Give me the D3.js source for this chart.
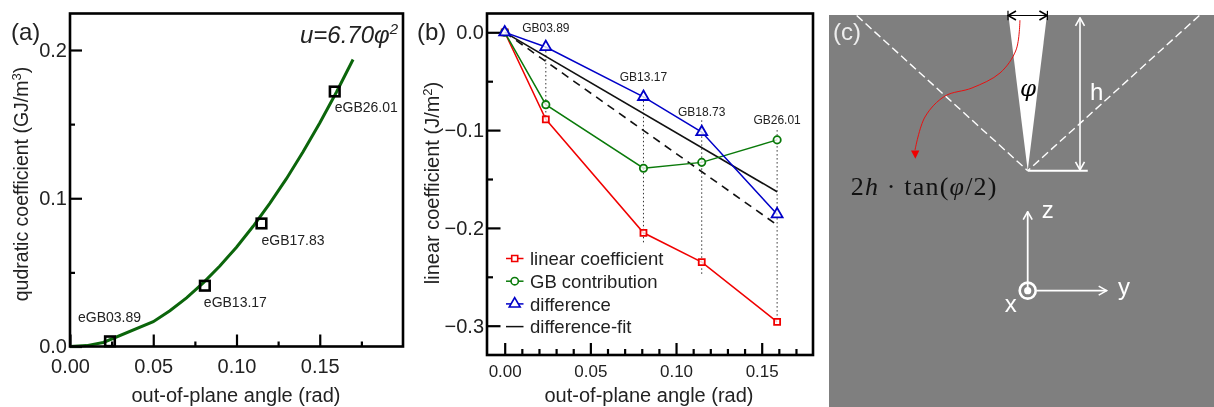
<!DOCTYPE html>
<meta charset="utf-8">
<style>
    html, body { margin: 0; padding: 0; background: #fff; }
    svg { display: block; filter: blur(0.35px); }
    text { font-family: "Liberation Sans", Arial, sans-serif; fill: #222; }
    .frame { fill: none; stroke: #000; stroke-width: 2.6; }
    .axis path { display: none; }
    .axis line { stroke: #000; stroke-width: 2.2; }
    .axis text { font-family: "Liberation Sans", Arial, sans-serif; fill: #222; }
    .guide { fill: none; stroke: #333; stroke-width: 1; stroke-dasharray: 1.5 2.5; }
    .white { fill: none; stroke: #fff; }
    .white-text { fill: #fff; font-size: 24px; text-anchor: middle; }
</style>
<body>
<div id="main"></div>
<script src="https://cdn.jsdelivr.net/npm/d3@7/dist/d3.min.js"></script>
<script>
// (a) quadratic coefficient
var quadAngles = [0.024, 0.081, 0.115, 0.159];
var quadValues = [0.0035, 0.041, 0.083, 0.172];
var quadLabels = ["eGB03.89", "eGB13.17", "eGB17.83", "eGB26.01"];
var curveAngles = [0, 0.01, 0.02, 0.05, 0.06, 0.07, 0.08, 0.09, 0.10, 0.11, 0.12, 0.13, 0.14, 0.15, 0.16, 0.17];
var curveValues = [0, 0.0006, 0.0027, 0.0167, 0.0241, 0.0328, 0.0429, 0.0543, 0.067, 0.0811, 0.0965, 0.1132, 0.1313, 0.1508, 0.1715, 0.1936];

// (b) linear coefficient
var angles = [0, 0.024, 0.081, 0.115, 0.159];
var linearCoef = [0, -0.089, -0.205, -0.235, -0.296];
var gbContribution = [0, -0.074, -0.139, -0.133, -0.110];
var difference = [0, -0.015, -0.066, -0.102, -0.186];
var fitAngles = [0, 0.159];
var fitValues = [0, -0.163];
var dashedValues = [0, -0.197];
var guideTop = [-0.015, -0.066, -0.09, -0.100];
var guideBottom = [-0.089, -0.217, -0.247, -0.296];
var gbNames = ["GB03.89", "GB13.17", "GB18.73", "GB26.01"];
var legendNames = ["linear coefficient", "GB contribution", "difference", "difference-fit"];

var svg = d3.select("#main").append("svg")
    .attr("width", 1214)
    .attr("height", 407);

var defs = svg.append("defs");
function chevron(id, color) {
    defs.append("marker")
        .attr("id", id)
        .attr("viewBox", "-10 -6 11 12")
        .attr("markerUnits", "userSpaceOnUse")
        .attr("markerWidth", 11)
        .attr("markerHeight", 12)
        .attr("orient", "auto-start-reverse")
        .append("path")
        .attr("d", "M-8,-4.5L0,0L-8,4.5")
        .attr("fill", "none")
        .attr("stroke", color)
        .attr("stroke-width", 1.6);
}
chevron("whiteHead", "#fff");
chevron("blackHead", "#000");

// ---------- panel a ----------
var xa = d3.scaleLinear().domain([0, 0.2]).range([70, 403]);
var ya = d3.scaleLinear().domain([0, 0.2]).range([346.5, 50]);

function ticks(g, axis, cls) {
    g.append("g").attr("class", "axis " + (cls || "")).call(axis);
}

var ax = svg.append("g");
ticks(ax.append("g").attr("transform", "translate(0,346.5)"),
    d3.axisBottom(xa).tickValues([0.025, 0.075, 0.125, 0.175]).tickSize(-5).tickFormat(""));
ticks(ax.append("g").attr("transform", "translate(0,346.5)"),
    d3.axisBottom(xa).tickValues([0, 0.05, 0.1, 0.15]).tickSize(-12).tickPadding(12).tickFormat(d3.format(".2f")));
ticks(ax.append("g").attr("transform", "translate(70,0)"),
    d3.axisLeft(ya).tickValues([0.05, 0.15]).tickSize(-5).tickFormat(""));
ticks(ax.append("g").attr("transform", "translate(70,0)"),
    d3.axisLeft(ya).tickValues([0, 0.1, 0.2]).tickSize(-12).tickPadding(3).tickFormat(d3.format(".1f")));
ax.selectAll(".axis text").style("font-size", "20px");

ax.append("path")
    .datum(curveAngles)
    .attr("d", d3.line().x(function(d) { return xa(d); }).y(function(d, i) { return ya(curveValues[i]); }))
    .attr("fill", "none")
    .attr("stroke", "#0b650b")
    .attr("stroke-width", 3);

ax.selectAll("rect.pt").data(quadAngles).enter().append("rect")
    .attr("class", "pt")
    .attr("x", function(d) { return xa(d) - 4.8; })
    .attr("y", function(d, i) { return ya(quadValues[i]) - 4.8; })
    .attr("width", 9.6).attr("height", 9.6)
    .attr("fill", "none").attr("stroke", "#000").attr("stroke-width", 2.6);

var quadLabelPos = [[-32, -19], [-1, 21], [0, 21.5], [0, 20.5]];
ax.selectAll("text.pl").data(quadLabels).enter().append("text")
    .attr("class", "pl")
    .attr("x", function(d, i) { return xa(quadAngles[i]) + quadLabelPos[i][0]; })
    .attr("y", function(d, i) { return ya(quadValues[i]) + quadLabelPos[i][1]; })
    .style("font-size", "14px")
    .text(function(d) { return d; });

ax.append("rect").attr("class", "frame").attr("x", 70).attr("y", 13.5).attr("width", 333).attr("height", 333);

ax.append("text").attr("x", 236).attr("y", 402).attr("text-anchor", "middle").style("font-size", "20px").text("out-of-plane angle (rad)");
ax.append("text").attr("transform", "translate(28,184) rotate(-90)").attr("text-anchor", "middle").style("font-size", "19.5px")
    .html('qudratic coefficient (GJ/m<tspan dy="-7" font-size="13">3</tspan><tspan dy="7">)</tspan>');
ax.append("text").attr("x", 11).attr("y", 40).style("font-size", "24px").text("(a)");
ax.append("text").attr("x", 398).attr("y", 43).attr("text-anchor", "end").style("font-size", "24px").style("font-style", "italic")
    .html('u=6.70φ<tspan dy="-9" font-size="15">2</tspan>');

// ---------- panel b ----------
var xb = d3.scaleLinear().domain([0, 0.15]).range([504.7, 761.7]);
var yb = d3.scaleLinear().domain([0, -0.3]).range([32.3, 325.7]);

var bx = svg.append("g");
var minorX = d3.range(0, 18).map(function(d) { return d / 100; }).filter(function(d) { return Math.round(d * 100) % 5 !== 0; });
ticks(bx.append("g").attr("transform", "translate(0,355)"),
    d3.axisBottom(xb).tickValues(minorX).tickSize(-6).tickFormat(""));
ticks(bx.append("g").attr("transform", "translate(0,355)"),
    d3.axisBottom(xb).tickValues([0, 0.05, 0.1, 0.15]).tickSize(-12).tickPadding(10).tickFormat(d3.format(".2f")));
ticks(bx.append("g").attr("transform", "translate(487,0)"),
    d3.axisLeft(yb).tickValues([-0.05, -0.15, -0.25]).tickSize(-6).tickFormat(""));
ticks(bx.append("g").attr("transform", "translate(487,0)"),
    d3.axisLeft(yb).tickValues([0, -0.1, -0.2, -0.3]).tickSize(-13.5).tickPadding(3).tickFormat(d3.format(".1f")));
bx.selectAll(".axis text").filter(function() { return +d3.select(this).attr("y") > 0; })
    .style("font-size", "17px");
bx.selectAll(".axis text").filter(function() { return +d3.select(this).attr("x") < 0; })
    .style("font-size", "20px");

// dotted guides
bx.selectAll("line.guide").data(angles.slice(1)).enter().append("line")
    .attr("class", "guide")
    .attr("x1", function(d) { return xb(d); }).attr("x2", function(d) { return xb(d); })
    .attr("y1", function(d, i) { return yb(guideTop[i]); })
    .attr("y2", function(d, i) { return yb(guideBottom[i]); });

var lineB = function(vals, xs) {
    return d3.line().x(function(d) { return xb(d); }).y(function(d, i) { return yb(vals[i]); })(xs);
};

bx.append("path").attr("d", lineB(fitValues, fitAngles)).attr("fill", "none").attr("stroke", "#111").attr("stroke-width", 1.6);
bx.append("path").attr("d", lineB(dashedValues, fitAngles)).attr("fill", "none").attr("stroke", "#111").attr("stroke-width", 1.6).attr("stroke-dasharray", "8 6");

var seriesB = [
    {vals: linearCoef, color: "#f00000", symbol: d3.symbolSquare, size: 36},
    {vals: gbContribution, color: "#0a7a0a", symbol: d3.symbolCircle, size: 42},
    {vals: difference, color: "#0000c8", symbol: d3.symbolTriangle, size: 52}
];
seriesB.forEach(function(s) {
    bx.append("path").attr("d", lineB(s.vals, angles)).attr("fill", "none").attr("stroke", s.color).attr("stroke-width", 1.5);
    bx.selectAll(null).data(angles).enter().append("path")
        .attr("d", d3.symbol().type(s.symbol).size(s.size))
        .attr("transform", function(d, i) { return "translate(" + xb(d) + "," + yb(s.vals[i]) + ")"; })
        .attr("fill", "#fff").attr("fill-opacity", 0.8).attr("stroke", s.color).attr("stroke-width", 1.8);
});

var gbAnchors = [0.024, 0.081, 0.115, 0.159];
var gbY = [-0.0, -0.05, -0.086, -0.094];
bx.selectAll("text.gb").data(gbNames).enter().append("text")
    .attr("class", "gb")
    .attr("x", function(d, i) { return xb(gbAnchors[i]); })
    .attr("y", function(d, i) { return yb(gbY[i]); })
    .attr("text-anchor", "middle")
    .style("font-size", "12px")
    .text(function(d) { return d; });

// legend
var legend = bx.selectAll("g.legend").data(legendNames).enter().append("g")
    .attr("class", "legend")
    .attr("transform", function(d, i) { return "translate(506," + (258.5 + i * 22.7) + ")"; });
legend.append("line").attr("x2", 17.5)
    .attr("stroke", function(d, i) { return i < 3 ? seriesB[i].color : "#111"; })
    .attr("stroke-width", 1.5);
legend.filter(function(d, i) { return i < 3; }).append("path")
    .attr("d", function(d, i) { return d3.symbol().type(seriesB[i].symbol).size(seriesB[i].size)(); })
    .attr("transform", "translate(8.7,0)")
    .attr("fill", "#fff").attr("stroke", function(d, i) { return seriesB[i].color; }).attr("stroke-width", 1.6);
legend.append("text").attr("x", 24).attr("dy", "0.36em").style("font-size", "18.5px").text(function(d) { return d; });

bx.append("rect").attr("class", "frame").attr("x", 487).attr("y", 13.5).attr("width", 326).attr("height", 341.5);

bx.append("text").attr("x", 649).attr("y", 402).attr("text-anchor", "middle").style("font-size", "20px").text("out-of-plane angle (rad)");
bx.append("text").attr("transform", "translate(439,183) rotate(-90)").attr("text-anchor", "middle").style("font-size", "20px")
    .html('linear coefficient (J/m<tspan dy="-7" font-size="13">2</tspan><tspan dy="7">)</tspan>');
bx.append("text").attr("x", 417).attr("y", 40).style("font-size", "24px").text("(b)");

// ---------- panel c, in units of h from the wedge tip ----------
var sx = d3.scaleLinear().domain([0, 1]).range([1027.7, 1182.9]);
var sy = d3.scaleLinear().domain([0, 1]).range([170.7, 15.5]);
var lineC = d3.line().x(function(d) { return sx(d[0]); }).y(function(d) { return sy(d[1]); });

var wedge = [[-0.124, 1], [0.124, 1], [0, 0]];
var dashLeft = [[-1.102, 1], [0, 0]];
var dashRight = [[1.106, 1], [0, 0]];
var baseLine = [[0, 0], [0.387, 0]];
var heightArrow = [[0.337, 0.005], [0.337, 0.985]];
var widthArrow = [[-0.127, 1], [0.127, 1]];
var redCurve = [[-0.05, 0.97], [-0.075, 0.778], [-0.178, 0.63], [-0.359, 0.533], [-0.533, 0.481], [-0.662, 0.346], [-0.726, 0.133]];
var redHead = [[-0.752, 0.13], [-0.698, 0.13], [-0.724, 0.077]];
var zAxis = [[0, -0.773], [0, -0.264]];
var yAxis = [[0.058, -0.773], [0.509, -0.773]];

var cx = svg.append("g");
cx.append("rect").attr("x", 829).attr("y", 15).attr("width", 385).attr("height", 392).attr("fill", "#7f7f7f");
cx.append("path").attr("d", lineC(wedge) + "Z").attr("fill", "#fff");
cx.append("path").attr("d", lineC(dashLeft)).attr("class", "white").attr("stroke-width", 1.4).attr("stroke-dasharray", "8 4");
cx.append("path").attr("d", lineC(dashRight)).attr("class", "white").attr("stroke-width", 1.4).attr("stroke-dasharray", "8 4");
cx.append("path").attr("d", lineC(baseLine)).attr("class", "white").attr("stroke-width", 2);
cx.append("path").attr("d", lineC(heightArrow)).attr("class", "white").attr("stroke-width", 1.6)
    .attr("marker-start", "url(#whiteHead)").attr("marker-end", "url(#whiteHead)");
cx.append("path").attr("d", lineC(widthArrow)).attr("fill", "none").attr("stroke", "#000").attr("stroke-width", 1.2)
    .attr("marker-start", "url(#blackHead)").attr("marker-end", "url(#blackHead)");
widthArrow.forEach(function(p) {
    cx.append("path").attr("d", lineC([[p[0], 1.03], [p[0], 0.97]])).attr("stroke", "#000").attr("stroke-width", 1.2);
});
cx.append("path").attr("d", lineC.curve(d3.curveCatmullRom)(redCurve)).attr("fill", "none").attr("stroke", "#e81010").attr("stroke-width", 1);
lineC.curve(d3.curveLinear);
cx.append("path").attr("d", lineC(redHead) + "Z").attr("fill", "#f00000");
cx.append("path").attr("d", lineC(zAxis)).attr("class", "white").attr("stroke-width", 1.8).attr("marker-end", "url(#whiteHead)");
cx.append("path").attr("d", lineC(yAxis)).attr("class", "white").attr("stroke-width", 1.8).attr("marker-end", "url(#whiteHead)");
cx.append("circle").attr("cx", sx(0)).attr("cy", sy(-0.773)).attr("r", 8).attr("class", "white").attr("stroke-width", 2.6);
cx.append("circle").attr("cx", sx(0)).attr("cy", sy(-0.773)).attr("r", 3.6).attr("fill", "#fff");

cx.append("text").attr("x", 833).attr("y", 40).style("font-size", "24px").style("fill", "#eee").text("(c)");
cx.append("text").attr("class", "white-text").attr("x", 1096.7).attr("y", 100).text("h");
cx.append("text").attr("class", "white-text").attr("x", 1047.7).attr("y", 218).text("z");
cx.append("text").attr("class", "white-text").attr("x", 1124).attr("y", 295).text("y");
cx.append("text").attr("class", "white-text").attr("x", 1010.7).attr("y", 312).text("x");
cx.append("text").attr("x", 1028).attr("y", 96).attr("text-anchor", "middle")
    .style("font-family", "'DejaVu Serif', serif").style("font-style", "italic").style("font-size", "23px").style("fill", "#000").text("φ");
cx.append("text").attr("x", 850.7).attr("y", 195)
    .style("font-family", "'Liberation Serif', serif").style("font-size", "26px").style("letter-spacing", "1.2px").style("fill", "#111")
    .html('2<tspan font-style="italic">h</tspan> · tan(<tspan font-style="italic">φ</tspan>/2)');
</script>
</body>
